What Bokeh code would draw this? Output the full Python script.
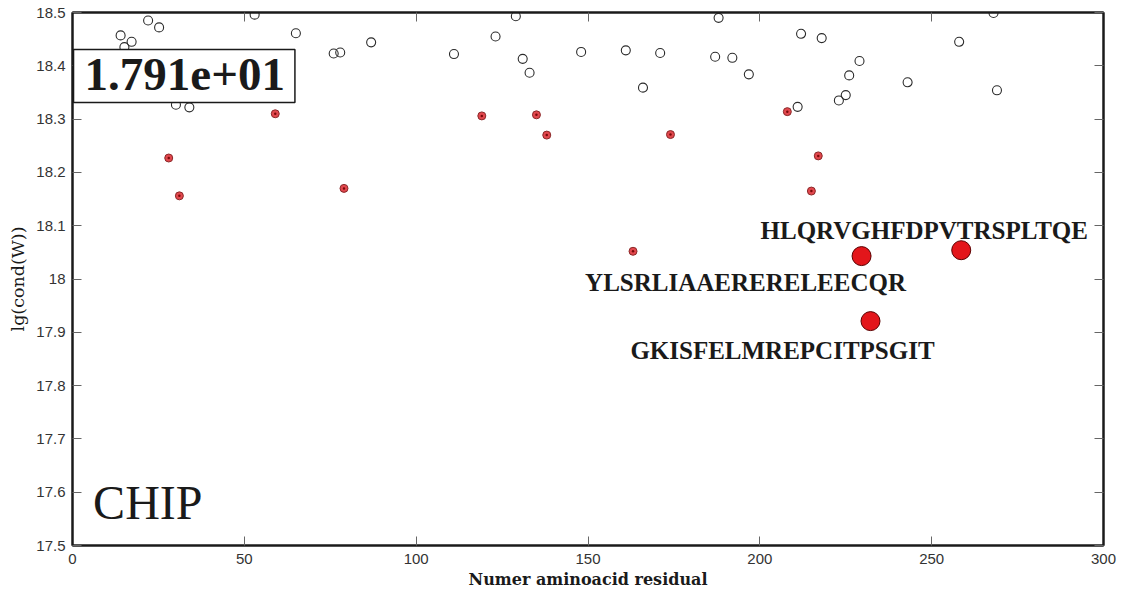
from bokeh.plotting import figure
from bokeh.models import LinearAxis, FixedTicker, Label, ColumnDataSource, Range1d
from bokeh.embed import file_html
from bokeh.resources import INLINE
from bokeh.core.properties import value

# ---- data ----
x_ticks = [0, 50, 100, 150, 200, 250, 300]
x_tick_labels = ["0", "50", "100", "150", "200", "250", "300"]
y_ticks = [17.5, 17.6, 17.7, 17.8, 17.9, 18.0, 18.1, 18.2, 18.3, 18.4, 18.5]
y_tick_labels = ["17.5", "17.6", "17.7", "17.8", "17.9", "18", "18.1", "18.2", "18.3", "18.4", "18.5"]

open_x = [0.0, 14.0, 15.1, 17.2, 22.0, 25.2, 53.0, 65.0, 76.0, 77.9, 86.9, 30.1, 34.0,
          111.0, 123.1, 129.0, 131.0, 133.0, 148.0, 161.0, 166.0, 171.0, 187.0, 188.0,
          192.0, 196.8, 212.0, 218.0, 229.0, 226.0, 225.0, 223.0, 211.0, 243.0, 258.0,
          268.0, 269.0]
open_y = [18.421, 18.457, 18.435, 18.445, 18.485, 18.472, 18.496, 18.461, 18.423, 18.425,
          18.444, 18.327, 18.322, 18.422, 18.455, 18.493, 18.413, 18.387, 18.426, 18.429,
          18.359, 18.424, 18.417, 18.490, 18.415, 18.384, 18.460, 18.452, 18.409, 18.382,
          18.345, 18.335, 18.323, 18.369, 18.445, 18.499, 18.354]

red_x = [28.0, 31.1, 59.0, 79.0, 119.1, 135.0, 138.0, 174.0, 163.1, 208.0, 217.0, 215.0]
red_y = [18.227, 18.156, 18.310, 18.170, 18.306, 18.308, 18.270, 18.271, 18.052, 18.314,
         18.231, 18.165]

hit_x = [229.6, 258.6, 232.2]
hit_y = [18.043, 18.054, 17.921]
hit_labels = ["YLSRLIAAERERELEECQR", "HLQRVGHFDPVTRSPLTQE", "GKISFELMREPCITPSGIT"]

cond_text = "1.791e+01"
protein = "CHIP"
x_title = "Numer aminoacid residual"
y_title = "lg(cond(W))"

# ---- figure ----
p = figure(width=1122, height=592, x_range=Range1d(0, 300), y_range=Range1d(17.5, 18.5),
           output_backend="svg", toolbar_location=None,
           min_border_left=72, min_border_right=19, min_border_top=12, min_border_bottom=47)
p.title.visible = False
p.xgrid.visible = False
p.ygrid.visible = False
p.outline_line_color = "#1a1a1a"
p.outline_line_width = 2
p.background_fill_color = "white"
p.border_fill_color = "white"

tick_font = "Liberation Sans"
for ax in (p.xaxis[0], p.yaxis[0]):
    ax.axis_line_color = "#1a1a1a"
    ax.axis_line_width = 2
    ax.major_tick_in = 9
    ax.major_tick_out = 0
    ax.major_tick_line_color = "#666666"
    ax.minor_tick_line_color = None
    ax.major_label_text_font = tick_font
    ax.major_label_text_font_size = "15px"
    ax.major_label_text_color = "#333333"

p.xaxis[0].ticker = FixedTicker(ticks=x_ticks)
p.xaxis[0].major_label_overrides = {t: l for t, l in zip(x_ticks, x_tick_labels)}
p.yaxis[0].ticker = FixedTicker(ticks=y_ticks)
p.yaxis[0].major_label_overrides = {t: l for t, l in zip(y_ticks, y_tick_labels)}
p.xaxis[0].major_label_standoff = 8
p.yaxis[0].major_label_standoff = 7

p.xaxis[0].axis_label = x_title
p.xaxis[0].axis_label_text_font = "DejaVu Serif"
p.xaxis[0].axis_label_text_font_style = "bold"
p.xaxis[0].axis_label_text_font_size = "16px"
p.xaxis[0].axis_label_text_color = "#1a1a1a"
p.xaxis[0].axis_label_standoff = 3

p.yaxis[0].axis_label = y_title
p.yaxis[0].axis_label_text_font = "DejaVu Serif"
p.yaxis[0].axis_label_text_font_style = "normal"
p.yaxis[0].axis_label_text_font_size = "17.5px"
p.yaxis[0].axis_label_text_color = "#1a1a1a"
p.yaxis[0].axis_label_standoff = 5

# mirrored axes (top / right) with inward ticks only, labels blanked
top = LinearAxis(ticker=FixedTicker(ticks=x_ticks),
                 major_label_overrides={t: "" for t in x_ticks})
right = LinearAxis(ticker=FixedTicker(ticks=y_ticks),
                   major_label_overrides={t: "" for t in y_ticks})
for ax in (top, right):
    ax.axis_line_color = "#1a1a1a"
    ax.axis_line_width = 2
    ax.major_tick_in = 9
    ax.major_tick_out = 0
    ax.major_tick_line_color = "#666666"
    ax.minor_tick_line_color = None
    ax.major_label_text_font_size = "8px"
    ax.major_label_standoff = 0
p.add_layout(top, "above")
p.add_layout(right, "right")

# ---- markers ----
p.scatter(open_x, open_y, marker="circle", size=9, fill_color=None,
          line_color="#2b2b2b", line_width=1.1)
p.scatter(red_x, red_y, marker="circle", size=8, fill_color="#e2474d",
          line_color="#8a2a2a", line_width=1)
p.scatter(red_x, red_y, marker="circle", size=2.5, fill_color="#7a0a0a", line_color=None)

src = ColumnDataSource(dict(x=hit_x, y=hit_y, t=hit_labels,
                            dx=[-116, -37, -88], dy=[26, -20, 29]))
p.scatter("x", "y", source=src, marker="circle", size=19, fill_color="#e3161b",
          line_color="#5a0000", line_width=1)
p.text("x", "y", text="t", source=src, x_offset="dx", y_offset="dy",
       text_font=value("Liberation Serif"), text_font_style="bold",
       text_font_size="25px", text_color="#1a1a1a",
       text_align="center", text_baseline="alphabetic")

# ---- annotations ----
box = Label(x=0.3, y=18.4306, text=cond_text, text_font="Liberation Serif",
            text_font_style="bold", text_font_size="47px", text_color="#1a1a1a",
            text_align="left", text_baseline="top",
            background_fill_color="white", border_line_color="#1a1a1a",
            border_line_width=1.5,
            padding=dict(left=11, right=10, top=10, bottom=12))
p.add_layout(box)

chip = Label(x=6.0, y=17.5804, text=protein, text_font="Liberation Serif",
             text_font_size="48px", text_color="#1a1a1a",
             text_align="left", text_baseline="alphabetic")
p.add_layout(chip)

open("out.html", "w").write(file_html(p, INLINE))
